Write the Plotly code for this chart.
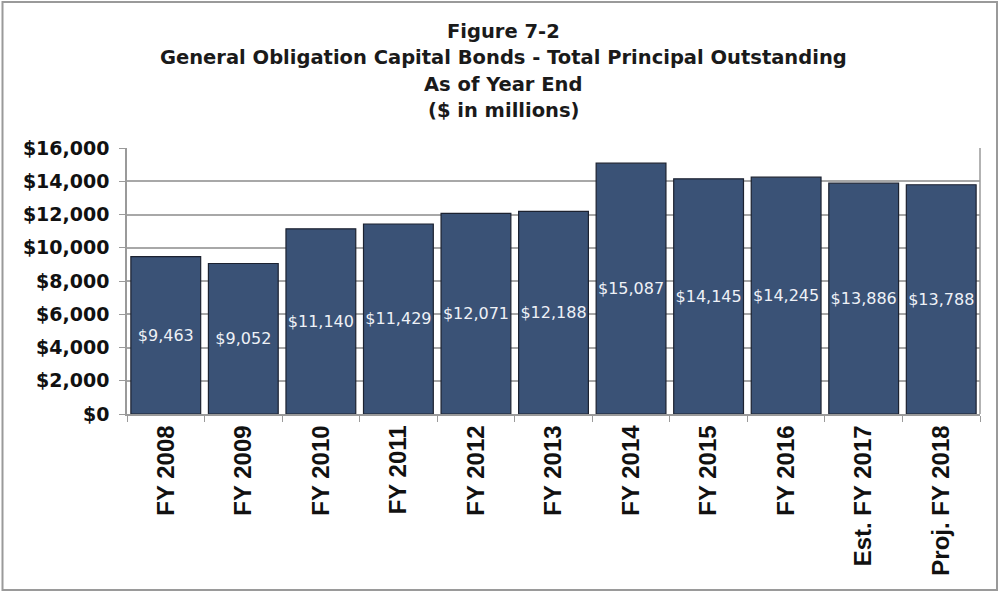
import plotly.graph_objects as go

# Fiscal years and outstanding principal ($ millions)
categories = ["FY 2008", "FY 2009", "FY 2010", "FY 2011", "FY 2012", "FY 2013",
              "FY 2014", "FY 2015", "FY 2016", "Est. FY 2017", "Proj. FY 2018"]
principal = [9463, 9052, 11140, 11429, 12071, 12188, 15087, 14145, 14245, 13886, 13788]
y_ticks = [0, 2000, 4000, 6000, 8000, 10000, 12000, 14000, 16000]
y_tick_labels = ["${:,}".format(v) for v in y_ticks]
title_lines = ["Figure 7-2",
               "General Obligation Capital Bonds - Total Principal Outstanding",
               "As of Year End",
               "($ in millions)"]

W, H = 1003, 592
ML, MR, MT, MB = 127, 23, 148, 178

fig = go.Figure(go.Bar(
    x=categories,
    y=principal,
    text=["${:,}".format(v) for v in principal],
    textposition="inside",
    insidetextanchor="middle",
    constraintext="none",
    textangle=0,
    textfont=dict(family="DejaVu Sans", size=16, color="#eef1f6"),
    marker=dict(color="#3a5276", line=dict(color="#1c2230", width=1.2)),
    hoverinfo="skip",
))

def px_x(p):
    return (p - ML) / (W - ML - MR)

def px_y(p):
    return (H - MB - p) / (H - MT - MB)

title_y = [31, 57.5, 84, 110]
annotations = [
    dict(text="<b>%s</b>" % line, xref="paper", yref="paper",
         x=px_x(503), y=px_y(yc), xanchor="center", yanchor="middle",
         showarrow=False,
         font=dict(family="DejaVu Sans", size=19.5, color="#1a1a1a"))
    for line, yc in zip(title_lines, title_y)
]

fig.update_layout(
    width=W, height=H,
    margin=dict(l=ML, r=MR, t=MT, b=MB),
    paper_bgcolor="white",
    plot_bgcolor="white",
    bargap=0.1,
    showlegend=False,
    annotations=annotations,
    shapes=[
        # frame around the whole chart
        dict(type="rect", xref="paper", yref="paper",
             x0=px_x(2.5), x1=px_x(997), y0=px_y(2), y1=px_y(590),
             line=dict(color="#9a9a9a", width=2), layer="below"),
        # right edge of the plot area
        dict(type="line", xref="paper", yref="paper",
             x0=1, x1=1, y0=0, y1=1, line=dict(color="#9a9a9a", width=1.5)),
    ],
)

fig.update_yaxes(
    range=[0, 16000],
    tickvals=y_ticks, ticktext=["<b>%s</b>" % t for t in y_tick_labels],
    showgrid=True, gridcolor="#a8a8a8", gridwidth=1.5,
    showline=True, linecolor="#9a9a9a", linewidth=1.5,
    ticks="outside", ticklen=6, tickcolor="#9a9a9a",
    ticklabelstandoff=6,
    tickfont=dict(family="DejaVu Sans", size=19, color="#111111"),
    zeroline=False,
)
fig.update_xaxes(
    tickangle=-90,
    tickvals=categories, ticktext=["<b>%s</b>" % c for c in categories],
    showline=True, linecolor="#9a9a9a", linewidth=1.5,
    ticks="outside", tickson="boundaries", ticklen=6, tickcolor="#9a9a9a",
    tickfont=dict(family="Liberation Sans", size=24, color="#111111"),
)

fig.write_html("out.html")
